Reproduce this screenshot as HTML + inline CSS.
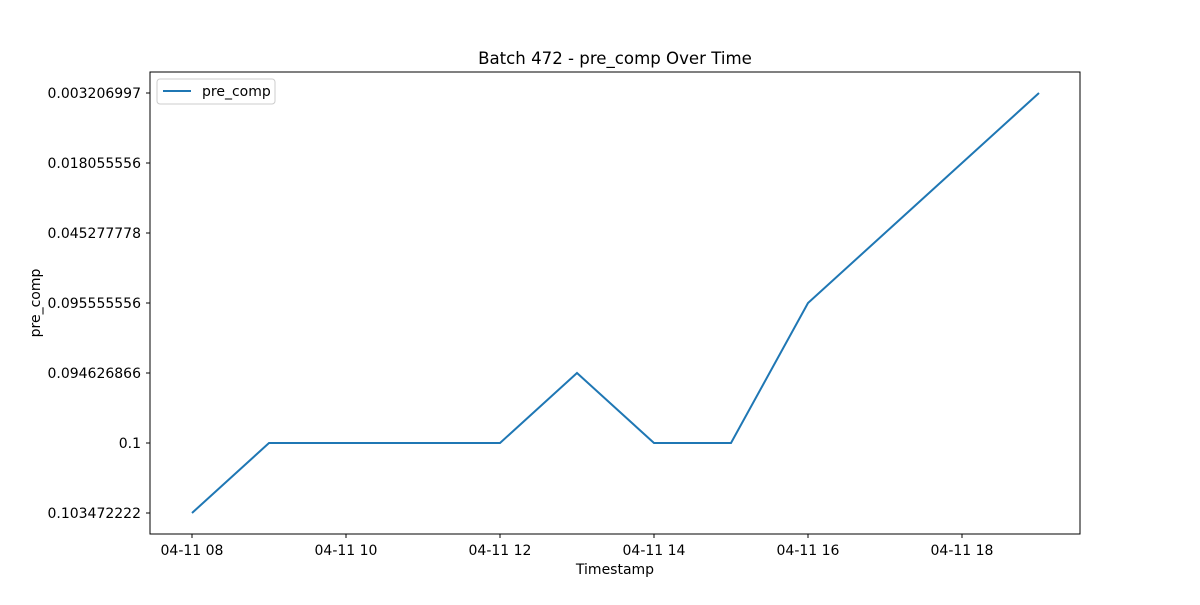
<!DOCTYPE html>
<html><head><meta charset="utf-8"><style>
body{margin:0;background:#fff;}
svg text{font-family:"DejaVu Sans","Liberation Sans",sans-serif;font-size:14px;fill:#000;}
</style></head><body>
<svg id="chart" width="1200" height="600" xmlns="http://www.w3.org/2000/svg">
<rect width="1200" height="600" fill="#fff"/>
<text x="615" y="64" text-anchor="middle" style="font-size:16.6px">Batch 472 - pre_comp Over Time</text>
<g id="axes"></g>
<rect x="150" y="72" width="930" height="462" fill="none" stroke="#000" stroke-width="1"/>
<text x="615" y="574" text-anchor="middle">Timestamp</text>
<text transform="translate(40,303) rotate(-90)" text-anchor="middle">pre_comp</text>
<g>
<rect x="157" y="79" width="118" height="25" fill="#fff" stroke="#ccc" rx="3"/>
<line x1="163" y1="91" x2="191" y2="91" stroke="#1f77b4" stroke-width="2"/>
<text x="202" y="96">pre_comp</text>
</g>
</svg>
<script>
const categories=["0.103472222","0.1","0.094626866","0.095555556","0.045277778","0.018055556","0.003206997"];
const hours=[8,9,10,11,12,13,14,15,16,17,18,19];
const values=["0.103472222","0.1","0.1","0.1","0.1","0.094626866","0.1","0.1","0.095555556","0.045277778","0.018055556","0.003206997"];
const xTicks=[8,10,12,14,16,18];
const ns="http://www.w3.org/2000/svg";
const g=document.getElementById('axes');
function xs(h){return 192+(h-8)*77;}
function ys(c){return 513-categories.indexOf(c)*70;}
function mk(t,a){const e=document.createElementNS(ns,t);for(const k in a)e.setAttribute(k,a[k]);g.appendChild(e);return e;}
xTicks.forEach(h=>{
 const l=mk('line',{x1:xs(h),x2:xs(h),y1:534,y2:538,stroke:'#000'});
 
 
 const t=mk('text',{x:xs(h),y:555,'text-anchor':'middle'});
 t.textContent='04-11 '+String(h).padStart(2,'0');
 
 
});
categories.forEach(c=>{
 const l=mk('line',{x1:146,x2:150,y1:ys(c),y2:ys(c),stroke:'#000'});
 
 
 const t=mk('text',{x:141,y:ys(c)+5,'text-anchor':'end'});
 t.textContent=c;
 
 
});
const p=mk('polyline',{points:hours.map((h,i)=>xs(h)+','+ys(values[i])).join(' '),fill:'none',stroke:'#1f77b4','stroke-width':2});


</script>
</body></html>
